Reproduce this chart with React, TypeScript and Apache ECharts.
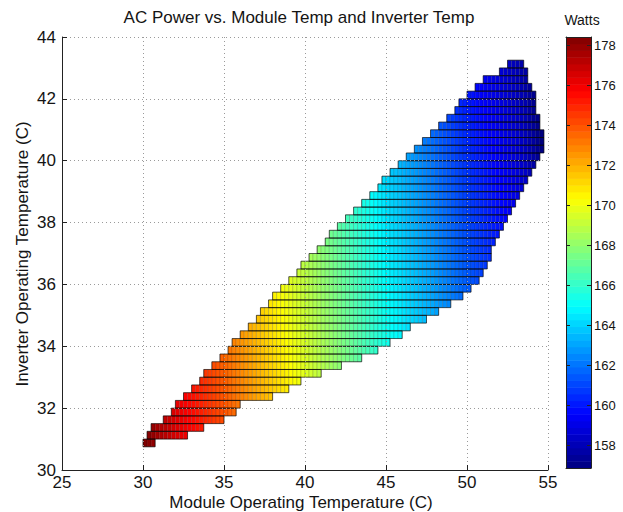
import React, { useEffect, useRef } from "react";
import * as echarts from "echarts";

// Grid resolution of the binned data (°C per cell, both directions)
const CELL = 0.25;

// Colour limits of the power scale (W)
const powerMin = 156.85;
const powerMax = 178.4;

// Left edge of each column of bins (module temperature, °C)
const moduleTemps = [
  30.0, 30.25, 30.5, 30.75, 31.0, 31.25, 31.5, 31.75, 32.0, 32.25,
  32.5, 32.75, 33.0, 33.25, 33.5, 33.75, 34.0, 34.25, 34.5, 34.75,
  35.0, 35.25, 35.5, 35.75, 36.0, 36.25, 36.5, 36.75, 37.0, 37.25,
  37.5, 37.75, 38.0, 38.25, 38.5, 38.75, 39.0, 39.25, 39.5, 39.75,
  40.0, 40.25, 40.5, 40.75, 41.0, 41.25, 41.5, 41.75, 42.0, 42.25,
  42.5, 42.75, 43.0, 43.25, 43.5, 43.75, 44.0, 44.25, 44.5, 44.75,
  45.0, 45.25, 45.5, 45.75, 46.0, 46.25, 46.5, 46.75, 47.0, 47.25,
  47.5, 47.75, 48.0, 48.25, 48.5, 48.75, 49.0, 49.25, 49.5, 49.75,
  50.0, 50.25, 50.5, 50.75, 51.0, 51.25, 51.5, 51.75, 52.0, 52.25,
  52.5, 52.75, 53.0, 53.25, 53.5, 53.75, 54.0, 54.25, 54.5, 54.75,
];

// Mean AC power of each module-temperature column (W)
const powerByModuleTemp = [
  176.9, 176.75, 176.5, 176.2, 175.9, 175.7, 175.5, 175.2, 175.0, 174.8,
  174.6, 174.4, 174.2, 174.0, 173.8, 173.6, 173.4, 173.2, 173.0, 172.8,
  172.6, 172.4, 172.2, 172.0, 171.8, 171.6, 171.4, 171.2, 171.0, 170.8,
  170.6, 170.4, 170.2, 170.0, 169.8, 169.6, 169.4, 169.2, 169.0, 168.8,
  168.6, 168.4, 168.2, 168.0, 167.8, 167.6, 167.4, 167.2, 167.0, 166.8,
  166.6, 166.4, 166.2, 166.0, 165.8, 165.6, 165.4, 165.2, 165.0, 164.8,
  164.6, 164.4, 164.25, 164.1, 163.9, 163.7, 163.55, 163.4, 163.2, 163.0,
  162.85, 162.7, 162.5, 162.3, 162.15, 162.0, 161.8, 161.65, 161.5, 161.35,
  161.2, 161.05, 160.9, 160.75, 160.6, 160.45, 160.3, 160.15, 160.0, 159.85,
  159.7, 159.55, 159.4, 159.2, 159.0, 158.7, 158.4, 158.05, 157.7, 157.4,
];

// Lower edge of each row of bins (inverter temperature, °C)
const inverterTemps = [
  30.75, 31.0, 31.25, 31.5, 31.75, 32.0, 32.25, 32.5, 32.75, 33.0,
  33.25, 33.5, 33.75, 34.0, 34.25, 34.5, 34.75, 35.0, 35.25, 35.5,
  35.75, 36.0, 36.25, 36.5, 36.75, 37.0, 37.25, 37.5, 37.75, 38.0,
  38.25, 38.5, 38.75, 39.0, 39.25, 39.5, 39.75, 40.0, 40.25, 40.5,
  40.75, 41.0, 41.25, 41.5, 41.75, 42.0, 42.25, 42.5, 42.75, 43.0,
];

// Power shift of each inverter-temperature row (W)
const powerShiftByInverterTemp = [
  1.5, 1.44, 1.38, 1.32, 1.26, 1.2, 1.14, 1.08, 1.02, 0.96,
  0.9, 0.84, 0.78, 0.72, 0.66, 0.6, 0.54, 0.48, 0.42, 0.36,
  0.3, 0.24, 0.18, 0.12, 0.06, 0.0, -0.06, -0.12, -0.18, -0.24,
  -0.3, -0.36, -0.42, -0.48, -0.54, -0.6, -0.66, -0.72, -0.78, -0.84,
  -0.9, -0.96, -1.02, -1.08, -1.14, -1.2, -1.26, -1.32, -1.38, -1.44,
];

// Observed module-temperature span of each row (°C)
const rowStart = [
  30.0, 30.25, 30.5, 31.25, 31.75, 32.0, 32.5, 33.0, 33.5, 33.75,
  34.25, 34.75, 35.25, 35.5, 36.0, 36.5, 37.0, 37.25, 37.75, 38.0,
  38.5, 39.0, 39.5, 39.75, 40.25, 40.75, 41.25, 41.5, 42.0, 42.5,
  43.0, 43.5, 44.0, 44.5, 44.75, 45.25, 45.75, 46.25, 46.75, 47.25,
  47.75, 48.25, 48.75, 49.25, 49.5, 50.0, 50.5, 51.0, 52.0, 52.5,
];
const rowEnd = [
  30.75, 32.75, 33.75, 35.0, 35.75, 36.0, 38.0, 39.0, 39.75, 41.0,
  42.25, 43.5, 44.5, 45.25, 46.0, 46.5, 47.5, 48.25, 49.0, 49.75,
  50.25, 50.75, 51.0, 51.25, 51.5, 51.5, 51.75, 52.0, 52.25, 52.5,
  52.75, 53.0, 53.25, 53.5, 53.75, 54.0, 54.25, 54.5, 54.75, 54.75,
  54.75, 54.5, 54.5, 54.25, 54.25, 54.25, 54.0, 53.75, 53.75, 53.5,
];

const xTicks = [25, 55, 5];
const yTicks = [30, 44, 2];
const colorbarTicks = [158, 160, 162, 164, 166, 168, 170, 172, 174, 176, 178];

// MATLAB "jet" colour map, evenly spaced stops
const jet = [
  "#00007F", "#0000FF", "#007FFF", "#00FFFF", "#7FFF7F",
  "#FFFF00", "#FF7F00", "#FF0000", "#7F0000",
];

const FONT = "'Liberation Sans', Arial, Helvetica, sans-serif";
const TEXT = "#141414";

function buildCells() {
  const cells: number[][] = [];
  inverterTemps.forEach((y, j) => {
    moduleTemps.forEach((x, i) => {
      if (x >= rowStart[j] - 1e-9 && x + CELL <= rowEnd[j] + 1e-9) {
        const p = powerByModuleTemp[i] + powerShiftByInverterTemp[j];
        cells.push([x, y, Math.round(p * 100) / 100]);
      }
    });
  });
  return cells;
}

function buildColorbar() {
  const levels = 64;
  const bands: number[][] = [];
  for (let k = 0; k < levels; k++) {
    const lo = powerMin + ((powerMax - powerMin) * k) / levels;
    const hi = powerMin + ((powerMax - powerMin) * (k + 1)) / levels;
    bands.push([lo, hi, (lo + hi) / 2]);
  }
  return bands;
}

export default function App() {
  const ref = useRef<HTMLDivElement>(null);

  useEffect(() => {
    if (!ref.current) return;
    const chart = echarts.init(ref.current, null, { renderer: "svg" });

    const cells = buildCells();
    const rows = inverterTemps.map((y, j) => [rowStart[j], rowEnd[j], y]);
    const bands = buildColorbar();

    const text = (t: string, x: number, y: number, size: number, rotation = 0) => ({
      type: "text",
      x,
      y,
      rotation,
      z: 100,
      style: {
        text: t,
        fill: TEXT,
        fontSize: size,
        fontFamily: FONT,
        align: "center",
        verticalAlign: "middle",
        textAlign: "center",
        textVerticalAlign: "middle",
      },
    });

    chart.setOption({
      animation: false,
      backgroundColor: "#ffffff",
      grid: [
        { left: 62, right: 75, top: 37, bottom: 42 },
        { left: 566, width: 25, top: 37, height: 431 },
      ],
      visualMap: {
        type: "continuous",
        show: false,
        min: powerMin,
        max: powerMax,
        dimension: 2,
        seriesIndex: [0, 2],
        inRange: { color: jet },
      },
      xAxis: [
        {
          gridIndex: 0,
          type: "value",
          min: xTicks[0],
          max: xTicks[1],
          interval: xTicks[2],
          axisLine: { show: true, lineStyle: { color: "#222", width: 1 } },
          axisTick: { show: true, inside: true, length: 5, lineStyle: { color: "#222" } },
          axisLabel: { fontSize: 17, color: TEXT, fontFamily: FONT, margin: 4 },
          splitLine: { show: true, lineStyle: { color: "#9a9a9a", type: [1, 3], width: 1 } },
          z: 5,
        },
        {
          gridIndex: 1,
          type: "value",
          min: 0,
          max: 1,
          position: "bottom",
          axisLine: { show: true, onZero: false, lineStyle: { color: "#222" } },
          axisTick: { show: false },
          axisLabel: { show: false },
          splitLine: { show: false },
          z: 10,
        },
        {
          gridIndex: 1,
          type: "value",
          min: 0,
          max: 1,
          position: "top",
          axisLine: { show: true, onZero: false, lineStyle: { color: "#222" } },
          axisTick: { show: false },
          axisLabel: { show: false },
          splitLine: { show: false },
          z: 10,
        },
      ],
      yAxis: [
        {
          gridIndex: 0,
          type: "value",
          min: yTicks[0],
          max: yTicks[1],
          interval: yTicks[2],
          axisLine: { show: true, lineStyle: { color: "#222", width: 1 } },
          axisTick: { show: true, inside: true, length: 5, lineStyle: { color: "#222" } },
          axisLabel: { fontSize: 17, color: TEXT, fontFamily: FONT, margin: 6 },
          splitLine: { show: true, lineStyle: { color: "#9a9a9a", type: [1, 3], width: 1 } },
          z: 5,
        },
        {
          gridIndex: 1,
          type: "value",
          min: powerMin,
          max: powerMax,
          position: "right",
          axisLine: { show: true, onZero: false, lineStyle: { color: "#222" } },
          axisTick: {
            show: true,
            inside: true,
            length: 4,
            customValues: colorbarTicks,
            lineStyle: { color: "#222" },
          },
          axisLabel: {
            fontSize: 13,
            color: TEXT,
            fontFamily: FONT,
            margin: 3,
            customValues: colorbarTicks,
          },
          splitLine: { show: false },
          z: 10,
        },
        {
          gridIndex: 1,
          type: "value",
          min: powerMin,
          max: powerMax,
          position: "left",
          axisLine: { show: true, onZero: false, lineStyle: { color: "#222" } },
          axisTick: {
            show: true,
            inside: true,
            length: 4,
            customValues: colorbarTicks,
            lineStyle: { color: "#222" },
          },
          axisLabel: { show: false },
          splitLine: { show: false },
          z: 10,
        },
      ],
      series: [
        {
          type: "custom",
          xAxisIndex: 0,
          yAxisIndex: 0,
          encode: { x: 0, y: 1 },
          data: cells,
          renderItem: (_p: any, api: any) => {
            const x = api.value(0);
            const y = api.value(1);
            const a = api.coord([x, y + CELL]);
            const b = api.coord([x + CELL, y]);
            return {
              type: "rect",
              shape: { x: a[0], y: a[1], width: b[0] - a[0], height: b[1] - a[1] },
              style: { fill: api.visual("color"), stroke: "rgba(0,0,0,0.3)", lineWidth: 0.5 },
            };
          },
        },
        {
          type: "custom",
          xAxisIndex: 0,
          yAxisIndex: 0,
          encode: { x: [0, 1], y: 2 },
          data: rows,
          renderItem: (_p: any, api: any) => {
            const x0 = api.value(0);
            const x1 = api.value(1);
            const y = api.value(2);
            const a = api.coord([x0, y + CELL]);
            const b = api.coord([x1, y]);
            return {
              type: "rect",
              shape: { x: a[0], y: a[1], width: b[0] - a[0], height: b[1] - a[1] },
              style: { fill: "none", stroke: "rgba(0,0,0,0.72)", lineWidth: 0.8 },
            };
          },
        },
        {
          type: "custom",
          xAxisIndex: 1,
          yAxisIndex: 1,
          encode: { y: [0, 1] },
          data: bands,
          renderItem: (_p: any, api: any) => {
            const lo = api.value(0);
            const hi = api.value(1);
            const a = api.coord([0, hi]);
            const b = api.coord([1, lo]);
            return {
              type: "rect",
              shape: { x: a[0], y: a[1], width: b[0] - a[0], height: b[1] - a[1] + 0.5 },
              style: { fill: api.visual("color") },
            };
          },
        },
      ],
      graphic: [
        text("AC Power vs. Module Temp and Inverter Temp", 299, 17, 17),
        text("Module Operating Temperature (C)", 301, 502, 17),
        text("Inverter Operating Temperature (C)", 22, 254, 17, Math.PI / 2),
        text("Watts", 582, 20, 14),
      ],
    });

    return () => chart.dispose();
  }, []);

  return (
    <div
      ref={ref}
      style={{ position: "fixed", left: 0, top: 0, width: 623, height: 512, background: "#fff" }}
    />
  );
}
